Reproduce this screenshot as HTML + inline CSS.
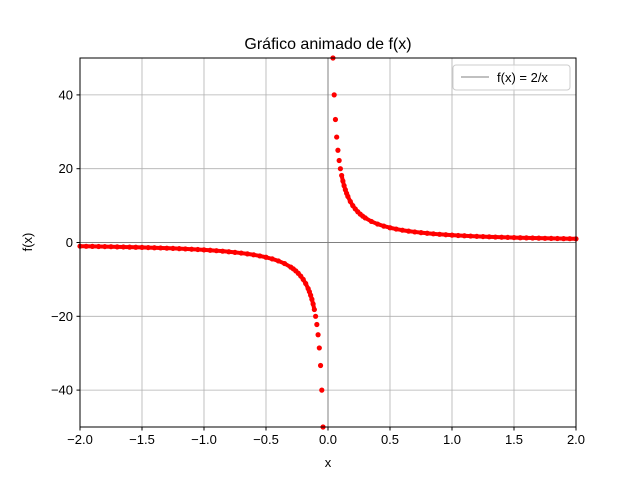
<!DOCTYPE html>
<html><head><meta charset="utf-8"><style>
body{margin:0;background:#fff}
svg text{font-family:"Liberation Sans","DejaVu Sans",sans-serif;fill:#000}
</style></head><body>
<svg id="chart" width="640" height="480" viewBox="0 0 640 480" xmlns="http://www.w3.org/2000/svg">
<rect width="640" height="480" fill="#fff"/>
<g id="grid"></g>
<g id="axes-lines"></g>
<g id="points"></g>
<rect x="80" y="58" width="496" height="369" fill="none" stroke="#000" stroke-width="1"/>
<g id="ticks"></g>
<text x="328" y="49" font-size="16" text-anchor="middle">Gráfico animado de f(x)</text>
<text x="328" y="467" font-size="13" text-anchor="middle">x</text>
<text x="32" y="242" font-size="13" text-anchor="middle" transform="rotate(-90 32 242)">f(x)</text>
<g>
<rect x="453" y="65" width="117" height="25" rx="3" fill="#fff" fill-opacity="0.8" stroke="#ccc"/>
<line x1="461" y1="77" x2="489" y2="77" stroke="#808080" stroke-width="1"/>
<text x="497" y="82" font-size="13">f(x) = 2/x</text>
</g>
</svg>
<script>
const xTicks=[-2,-1.5,-1,-0.5,0,0.5,1,1.5,2];
const xTickLabels=["−2.0","−1.5","−1.0","−0.5","0.0","0.5","1.0","1.5","2.0"];
const yTicks=[-40,-20,0,20,40];
const yTickLabels=["−40","−20","0","20","40"];
const posXs=[0.04,0.05,0.06,0.07,0.08,0.09,0.1,0.11,0.12,0.13,0.14,0.15,0.16,0.18,0.2,0.22,0.24,0.26,0.28,0.3,0.35,0.4,0.45,0.5,0.55,0.6,0.65,0.7,0.75,0.8,0.85,0.9,0.95,1,1.05,1.1,1.15,1.2,1.25,1.3,1.35,1.4,1.45,1.5,1.55,1.6,1.65,1.7,1.75,1.8,1.85,1.9,1.95,2];
const posYs=[50,40,33.33,28.57,25,22.22,20,18.18,16.67,15.38,14.29,13.33,12.5,11.11,10,9.09,8.33,7.69,7.14,6.67,5.71,5,4.44,4,3.64,3.33,3.08,2.86,2.67,2.5,2.35,2.22,2.11,2,1.9,1.82,1.74,1.67,1.6,1.54,1.48,1.43,1.38,1.33,1.29,1.25,1.21,1.18,1.14,1.11,1.08,1.05,1.03,1];
const negXs=[-0.04,-0.05,-0.06,-0.07,-0.08,-0.09,-0.1,-0.11,-0.12,-0.13,-0.14,-0.15,-0.16,-0.18,-0.2,-0.22,-0.24,-0.26,-0.28,-0.3,-0.35,-0.4,-0.45,-0.5,-0.55,-0.6,-0.65,-0.7,-0.75,-0.8,-0.85,-0.9,-0.95,-1,-1.05,-1.1,-1.15,-1.2,-1.25,-1.3,-1.35,-1.4,-1.45,-1.5,-1.55,-1.6,-1.65,-1.7,-1.75,-1.8,-1.85,-1.9,-1.95,-2];
const negYs=[-50,-40,-33.33,-28.57,-25,-22.22,-20,-18.18,-16.67,-15.38,-14.29,-13.33,-12.5,-11.11,-10,-9.09,-8.33,-7.69,-7.14,-6.67,-5.71,-5,-4.44,-4,-3.64,-3.33,-3.08,-2.86,-2.67,-2.5,-2.35,-2.22,-2.11,-2,-1.9,-1.82,-1.74,-1.67,-1.6,-1.54,-1.48,-1.43,-1.38,-1.33,-1.29,-1.25,-1.21,-1.18,-1.14,-1.11,-1.08,-1.05,-1.03,-1];
const NS="http://www.w3.org/2000/svg";
const L=80,R=576,T=58,B=427;
function sx(v){return L+(v+2)/4*(R-L);}
function sy(v){return B-(v+50)/100*(B-T);}
function el(tag,attrs,parent){const e=document.createElementNS(NS,tag);for(const k in attrs)e.setAttribute(k,attrs[k]);parent.appendChild(e);return e;}
const grid=document.getElementById('grid'),ticks=document.getElementById('ticks'),pts=document.getElementById('points'),ax=document.getElementById('axes-lines');
xTicks.forEach((v,i)=>{const x=sx(v);
 const g=el('line',{x1:x,x2:x,y1:T,y2:B,stroke:'#b0b0b0','stroke-width':0.8},grid);
 
 
 el('line',{x1:x,x2:x,y1:B,y2:B+3.5,stroke:'#000'},ticks);
 const t=el('text',{x:x,y:B+17,'font-size':13,'text-anchor':'middle'},ticks);t.textContent=xTickLabels[i];
 
 
});
yTicks.forEach((v,i)=>{const y=sy(v);
 const g=el('line',{x1:L,x2:R,y1:y,y2:y,stroke:'#b0b0b0','stroke-width':0.8},grid);
 
 
 el('line',{x1:L-3.5,x2:L,y1:y,y2:y,stroke:'#000'},ticks);
 const t=el('text',{x:L-7,y:y+4.5,'font-size':13,'text-anchor':'end'},ticks);t.textContent=yTickLabels[i];
 
 
});
const h=el('line',{x1:L,x2:R,y1:sy(0),y2:sy(0),stroke:'#808080','stroke-width':1},ax);


const vv=el('line',{x1:sx(0),x2:sx(0),y1:T,y2:B,stroke:'#808080','stroke-width':1},ax);


function drawSeries(xs,ys){xs.forEach((x,i)=>{const y=ys[i];if(y>50.5||y<-50.5)return;
 const c=el('circle',{cx:sx(x),cy:sy(y),r:2.6,fill:'#ff0000'},pts);
 
 
 if(i<xs.length-1){const x2=xs[i+1],y2=ys[i+1];
  const ln=el('line',{x1:sx(x),y1:sy(y),x2:sx(x2),y2:sy(y2),stroke:'#ff0000','stroke-width':4,'stroke-linecap':'round'},pts);
  
  
  if(Math.abs(sy(y)-sy(y2))>6)ln.remove();}
});}
drawSeries(posXs,posYs);
drawSeries(negXs,negYs);
</script>
</body></html>
